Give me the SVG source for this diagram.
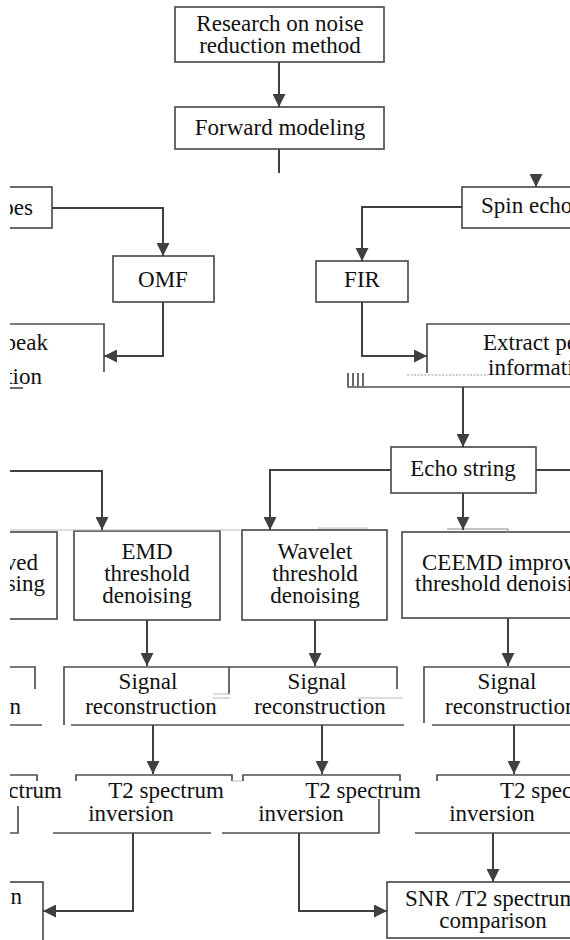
<svg xmlns="http://www.w3.org/2000/svg" width="570" height="940" viewBox="0 0 570 940" font-family="'Liberation Serif', Tinos, 'Times New Roman', serif">
<style>
.b{fill:none;stroke:#505050;stroke-width:1.7}
.c{fill:none;stroke:#404040;stroke-width:2}
.g{fill:none;stroke:#b8b8b8;stroke-width:1}
text{font-size:23px;fill:#111}
.m{text-anchor:middle}
.e{text-anchor:end}
</style>
<defs>
<clipPath id="clip"><rect x="10" y="0" width="560" height="940"/></clipPath>
<marker id="ah" viewBox="0 0 13 13" markerWidth="13" markerHeight="13" markerUnits="userSpaceOnUse" refX="13" refY="6.5" orient="auto">
<path d="M0,0 L13,6.5 L0,13 z" fill="#404040"/>
</marker>
</defs>
<rect width="570" height="940" fill="#fff"/>
<g clip-path="url(#clip)">
<g id="research"><rect class="b" x="175" y="7" width="209" height="55"/><text class="m" x="280" y="31">Research on noise</text><text class="m" x="280" y="53">reduction method</text></g>
<g id="forward"><rect class="b" x="175" y="107" width="209" height="42"/><text class="m" x="280" y="135">Forward modeling</text></g>
<g id="types"><rect class="b" x="-5" y="187" width="57" height="41"/><text class="e" x="33" y="215">pes</text></g>
<g id="spinecho"><rect class="b" x="462" y="187" width="120" height="41"/><text x="481" y="213">Spin echo</text></g>
<g id="omf"><rect class="b" x="113" y="256" width="101" height="46"/><text class="m" x="163" y="287">OMF</text></g>
<g id="fir"><rect class="b" x="316" y="261" width="92" height="41"/><text class="m" x="362" y="287">FIR</text></g>
<g id="peak"><path class="b" d="M-5,324 H104 V372"/><path class="b" d="M10,388 H23"/><text class="e" x="48" y="350">peak</text><text class="e" x="42" y="384">tion</text></g>
<g id="extract"><path class="b" d="M427,373 V324 H575"/><path class="b" d="M347,387 H575"/><path class="b" d="M348,373 V386 M353,373 V386 M358,373 V386 M363,373 V386"/><path d="M407,375 H488" stroke="#999" stroke-width="1.2" stroke-dasharray="2 1.5"/><text x="483" y="350">Extract peak</text><text x="488" y="375">information</text></g>
<g id="echostring"><rect class="b" x="391" y="447" width="145" height="46"/><text class="m" x="463" y="476">Echo string</text></g>
<g id="improved"><rect class="b" x="-5" y="532" width="62" height="87"/><text class="e" x="38" y="570">ved</text><text class="e" x="45" y="591">sing</text></g>
<g id="emd"><rect class="b" x="74" y="531" width="146" height="89"/><text class="m" x="147" y="559">EMD</text><text class="m" x="147" y="581">threshold</text><text class="m" x="147" y="603">denoising</text></g>
<g id="wavelet"><rect class="b" x="242" y="530" width="145" height="90"/><text class="m" x="315" y="559">Wavelet</text><text class="m" x="315" y="581">threshold</text><text class="m" x="315" y="603">denoising</text></g>
<g id="ceemd"><rect class="b" x="402" y="532" width="175" height="86"/><text x="422" y="570">CEEMD improved</text><text x="415" y="591">threshold denoising</text></g>
<g id="glitch1"><path class="g" d="M10,530 H240 M318,528 H368"/><path d="M447,529 H508 V533" fill="none" stroke="#888" stroke-width="1"/></g>
<g id="sig0"><path class="b" d="M-5,667 H35 V689"/><path class="b" d="M-5,725 H42"/><text class="e" x="21" y="714">on</text></g>
<g id="sig1"><path class="b" d="M64,725 V667 H229 V694"/><path class="b" d="M71,725 H404"/><path class="g" d="M213,694 H230 M213,698 H230"/><text class="m" x="148" y="689">Signal</text><text class="m" x="151" y="714">reconstruction</text></g>
<g id="sig2"><path class="b" d="M229,667 H397 V689"/><path class="g" d="M358,698 H403"/><text class="m" x="317" y="689">Signal</text><text class="m" x="320" y="714">reconstruction</text></g>
<g id="sig3"><path class="b" d="M424,723 V667 H575"/><path class="b" d="M432,725 H575"/><text class="m" x="507" y="689">Signal</text><text x="445" y="714">reconstruction</text></g>
<g id="t20"><path class="b" d="M-5,775 H37 V781"/><path class="b" d="M-5,833 H18 V806"/><text class="e" x="62" y="798">ctrum</text></g>
<g id="t21"><path class="b" d="M76,781 V775 H232 V781"/><path class="b" d="M53,833 H211"/><path class="g" d="M232,781 H243"/><text class="m" x="166" y="798">T2 spectrum</text><text class="m" x="131" y="821">inversion</text></g>
<g id="t22"><path class="b" d="M243,781 V775 H400 V781"/><path class="b" d="M222,833 H379 V799"/><text class="m" x="363" y="798">T2 spectrum</text><text class="m" x="301" y="821">inversion</text></g>
<g id="t23"><path class="b" d="M437,781 V775 H575"/><path class="b" d="M415,833 H575"/><text x="500" y="798">T2 spectrum</text><text class="m" x="492" y="821">inversion</text></g>
<g id="result0"><rect class="b" x="-5" y="882" width="48" height="62"/><text class="e" x="22" y="904">n</text></g>
<g id="snr"><rect class="b" x="387" y="882" width="190" height="56"/><text x="405" y="906">SNR /T2 spectrum</text><text class="m" x="493" y="928">comparison</text></g>
<g id="connectors">
<path class="c" d="M279,62 V107" marker-end="url(#ah)"/>
<path class="c" d="M279,149 V173"/>
<path class="c" d="M536,174 V187" marker-end="url(#ah)"/>
<path class="c" d="M52,208 H163 V256" marker-end="url(#ah)"/>
<path class="c" d="M462,207 H362 V261" marker-end="url(#ah)"/>
<path class="c" d="M163,302 V356 H104" marker-end="url(#ah)"/>
<path class="c" d="M362,302 V356 H427" marker-end="url(#ah)"/>
<path class="c" d="M463,387 V447" marker-end="url(#ah)"/>
<path class="c" d="M5,471 H102 V530" marker-end="url(#ah)"/>
<path class="c" d="M391,470 H270 V530" marker-end="url(#ah)"/>
<path class="c" d="M536,470 H575"/>
<path class="c" d="M463,493 V530" marker-end="url(#ah)"/>
<path class="c" d="M147,620 V666" marker-end="url(#ah)"/>
<path class="c" d="M315,620 V666" marker-end="url(#ah)"/>
<path class="c" d="M508,618 V666" marker-end="url(#ah)"/>
<path class="c" d="M153,725 V774" marker-end="url(#ah)"/>
<path class="c" d="M322,725 V774" marker-end="url(#ah)"/>
<path class="c" d="M514,725 V774" marker-end="url(#ah)"/>
<path class="c" d="M133,833 V911 H43" marker-end="url(#ah)"/>
<path class="c" d="M299,833 V911 H387" marker-end="url(#ah)"/>
<path class="c" d="M493,833 V882" marker-end="url(#ah)"/>
</g>
</g>
</svg>
